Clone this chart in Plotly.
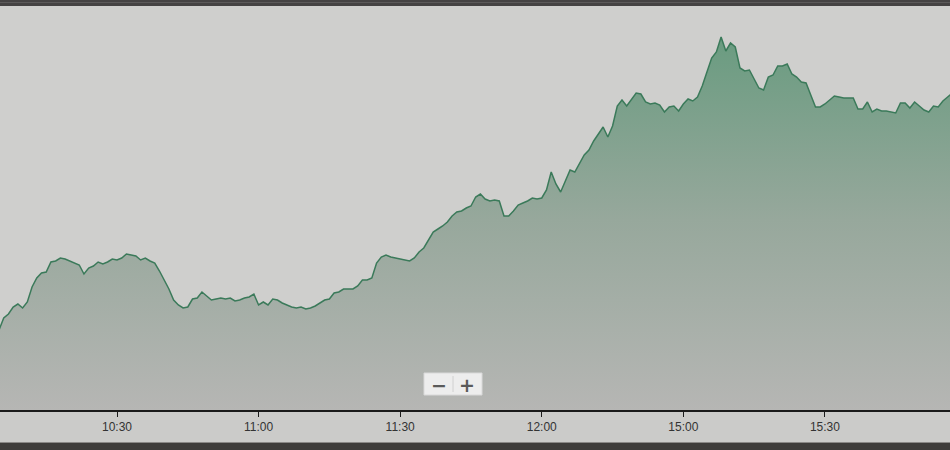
import plotly.graph_objects as go

# Trading-minute index (10:00 = 0; the 12:00 -> 15:00 break is compressed, as on the axis)
start_minute = 5
values = [
    80, 92, 96, 103, 106, 102, 108, 123, 132, 137,
    138, 148, 149, 152, 151, 149, 147, 145, 136, 142,
    144, 148, 146, 148, 151, 150, 152, 156, 155, 154,
    150, 152, 149, 147, 139, 130, 121, 110, 105, 102,
    103, 111, 112, 118, 114, 110, 111, 112, 111, 112,
    109, 110, 112, 113, 116, 105, 108, 105, 111, 110,
    107, 105, 103, 102, 103, 101, 102, 104, 107, 110,
    111, 117, 118, 121, 121, 121, 124, 130, 130, 132,
    147, 153, 155, 153, 152, 151, 150, 149, 152, 158,
    162, 170, 178, 181, 184, 188, 194, 198, 199, 202,
    204, 213, 216, 211, 209, 210, 209, 194, 194, 199,
    205, 207, 209, 212, 211, 212, 220, 238, 226, 218,
    230, 240, 238, 247, 255, 260, 269, 276, 283, 273,
    284, 304, 310, 304, 310, 317, 316, 308, 306, 307,
    305, 298, 303, 304, 299, 306, 311, 309, 313, 324,
    338, 352, 358, 373, 359, 367, 363, 342, 339, 340,
    331, 322, 320, 333, 335, 344, 344, 346, 336, 333,
    328, 327, 315, 303, 303, 306, 310, 314, 313, 312,
    312, 312, 301, 301, 308, 298, 301, 299, 299, 298,
    297, 307, 307, 302, 308, 304, 300, 298, 304, 303,
    309, 313, 317,
]
minutes = list(range(start_minute, start_minute + len(values)))

tick_positions = [30, 60, 90, 120, 150, 180]
tick_labels = ["10:30", "11:00", "11:30", "12:00", "15:00", "15:30"]

fig = go.Figure()
fig.add_trace(go.Scatter(
    x=minutes, y=values, mode="lines",
    line=dict(color="#3b7a5a", width=1.5),
    fill="tozeroy",
    fillgradient=dict(
        type="vertical",
        colorscale=[[0, "#b6b6b4"], [0.5, "#97a89c"], [1, "#689b7f"]],
        start=0, stop=380,
    ),
    hoverinfo="skip",
))

H_TOP = 6
H_BOT = 40
plot_h = 450 - H_TOP - H_BOT

def py(pix):
    # pixel row -> paper y
    return (450 - H_BOT - pix) / plot_h

shapes = [
    # top dark bar
    dict(type="rect", xref="paper", yref="paper", x0=0, x1=1, y0=py(6), y1=py(0),
         fillcolor="#454343", line=dict(width=0), layer="above"),
    dict(type="line", xref="paper", yref="paper", x0=0, x1=1, y0=py(2.5), y1=py(2.5),
         line=dict(color="#5c5a5a", width=1), layer="above"),
    # bottom dark bar
    dict(type="rect", xref="paper", yref="paper", x0=0, x1=1, y0=py(450), y1=py(443),
         fillcolor="#3e3c3a", line=dict(width=0), layer="above"),
    dict(type="line", xref="paper", yref="paper", x0=0, x1=1, y0=py(442.5), y1=py(442.5),
         line=dict(color="#8a8886", width=1), layer="above"),
    # zoom control box
    dict(type="rect", xref="paper", yref="paper", x0=424 / 950, x1=482 / 950,
         y0=py(395), y1=py(373), fillcolor="#ededed",
         line=dict(color="#d9d9d9", width=1), layer="above"),
    dict(type="line", xref="paper", yref="paper", x0=453 / 950, x1=453 / 950,
         y0=py(392), y1=py(376), line=dict(color="#d0d0d0", width=1), layer="above"),
]

annotations = [
    dict(text="<b>−</b>", xref="paper", yref="paper", x=438.5 / 950, y=py(384.5),
         showarrow=False, yanchor="middle",
         font=dict(size=19, color="#5a5a5a", family="DejaVu Sans")),
    dict(text="<b>+</b>", xref="paper", yref="paper", x=467 / 950, y=py(384.5),
         showarrow=False, yanchor="middle",
         font=dict(size=19, color="#5a5a5a", family="DejaVu Sans")),
]

fig.update_layout(
    width=950, height=450,
    margin=dict(l=0, r=0, t=H_TOP, b=H_BOT),
    paper_bgcolor="#cbcbc9",
    plot_bgcolor="#cfcfcd",
    showlegend=False,
    shapes=shapes,
    annotations=annotations,
    xaxis=dict(
        range=[5.21, 206.5],
        tickmode="array", tickvals=tick_positions, ticktext=tick_labels,
        showgrid=False, zeroline=False,
        showline=True, linecolor="#1a1a1a", linewidth=1.5,
        ticks="outside", ticklen=5, tickcolor="#1a1a1a", tickwidth=1,
        tickfont=dict(family="Liberation Sans Narrow, Liberation Sans", size=12, color="#333333"),
        fixedrange=True,
    ),
    yaxis=dict(
        range=[0, plot_h], visible=False, showgrid=False, zeroline=False, fixedrange=True,
    ),
)

fig.write_html(
    "out.html",
    config={"displayModeBar": False},
    post_script="document.body.style.margin='0';document.body.style.overflow='hidden';",
)
